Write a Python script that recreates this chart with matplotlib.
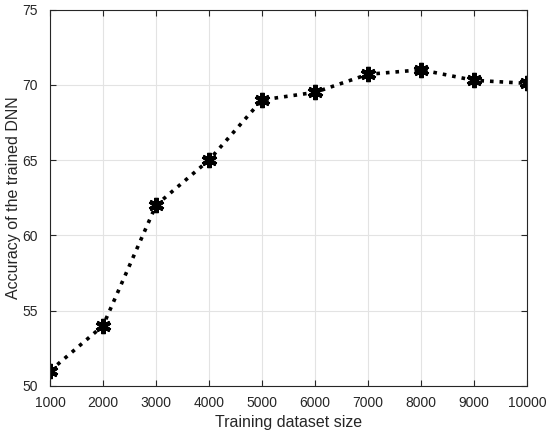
import matplotlib.pyplot as plt
import numpy as np

plt.rcParams['font.family'] = ['Liberation Sans', 'DejaVu Sans']

train_size = [1000, 2000, 3000, 4000, 5000, 6000, 7000, 8000, 9000, 10000]
accuracy = [51, 54, 62, 65, 69, 69.5, 70.7, 71, 70.3, 70.1]

fig = plt.figure(figsize=(5.5, 4.36), dpi=100)
ax = fig.add_axes([0.091, 0.115, 0.867, 0.863])

ax.plot(train_size, accuracy, color='black', linestyle=':', linewidth=2.6,
        marker=(6, 2, 0), markersize=11, markeredgewidth=3)

ax.set_xlim(1000, 10000)
ax.set_ylim(50, 75)
ax.set_xticks(train_size)
ax.set_yticks(np.arange(50, 76, 5))
ax.grid(True, color='#e3e3e3', linewidth=0.8)
ax.set_axisbelow(True)
ax.tick_params(direction='in', length=4, labelsize=10, top=True, right=True, colors='#262626')
ax.tick_params(axis='x', pad=7)
ax.tick_params(axis='y', pad=9)
for s in ax.spines.values():
    s.set_color('#262626')
    s.set_linewidth(0.8)

ax.set_xlabel('Training dataset size', fontsize=11.5, color='#262626', labelpad=4)
ax.set_ylabel('Accuracy of the trained DNN', fontsize=11.5, color='#262626', labelpad=1)

plt.savefig('out.png', dpi=100)
plt.close()
